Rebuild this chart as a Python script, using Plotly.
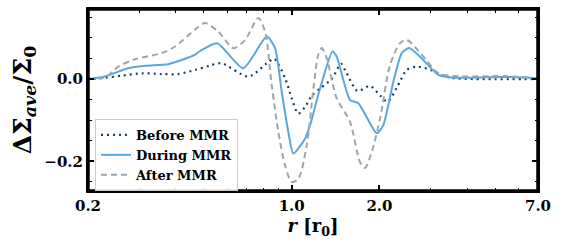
import math
import plotly.graph_objects as go

# ---- data ----
r_before = [0.2, 0.229, 0.261, 0.309, 0.358, 0.407, 0.466, 0.52, 0.575, 0.710, 0.821, 0.870, 0.949, 1.0, 1.054,
            1.111, 1.171, 1.251, 1.372, 1.477, 1.524, 1.682, 1.857, 2.010, 2.132, 2.294, 2.482, 2.686, 3.0,
            3.228, 3.6, 7.0]
v_before = [0.0, 0.003, 0.008, 0.014, 0.012, 0.012, 0.022, 0.032, 0.038, 0.006, 0.038, 0.049, 0.002, -0.047,
            -0.084, -0.068, -0.041, -0.023, 0.0, 0.037, 0.022, -0.029, -0.017, -0.040, -0.055, -0.021, 0.022,
            0.030, 0.022, 0.010, 0.002, 0.0]

r_during = [0.2, 0.229, 0.274, 0.314, 0.376, 0.419, 0.466, 0.485, 0.555, 0.681, 0.821, 0.877, 0.924, 0.974,
            1.013, 1.111, 1.156, 1.251, 1.38, 1.427, 1.585, 1.693, 1.958, 2.062, 2.232, 2.386, 2.528, 2.794,
            3.186, 3.634, 5.4, 7.0]
v_during = [0.0, 0.006, 0.026, 0.032, 0.036, 0.046, 0.059, 0.068, 0.087, 0.026, 0.103, 0.075, -0.031, -0.129,
            -0.181, -0.145, -0.112, -0.023, 0.067, 0.054, -0.051, -0.059, -0.132, -0.112, -0.007, 0.063, 0.075,
            0.050, 0.010, 0.003, 0.005, 0.002]

r_after = [0.2, 0.229, 0.254, 0.290, 0.358, 0.398, 0.466, 0.504, 0.560, 0.631, 0.692, 0.768, 0.810, 0.854,
           0.900, 0.949, 1.0, 1.054, 1.126, 1.187, 1.234, 1.268, 1.319, 1.427, 1.585, 1.716, 1.785, 1.882,
           2.010, 2.175, 2.354, 2.482, 2.794, 3.186, 3.634, 5.4, 7.0]
v_after = [0.0, 0.004, 0.030, 0.048, 0.063, 0.079, 0.120, 0.136, 0.115, 0.075, 0.095, 0.148, 0.115, -0.015,
           -0.129, -0.210, -0.250, -0.242, -0.161, -0.023, 0.059, 0.075, 0.050, -0.047, -0.104, -0.202, -0.216,
           -0.177, -0.096, 0.034, 0.087, 0.095, 0.059, 0.014, 0.007, 0.007, 0.002]

labels = ["<b>Before MMR</b>", "<b>During MMR</b>", "<b>After MMR</b>"]
x_major = [0.2, 1.0, 2.0, 7.0]
x_major_text = ["<b>0.2</b>", "<b>1.0</b>", "<b>2.0</b>", "<b>7.0</b>"]
x_minor = [0.3, 0.4, 0.5, 0.6, 0.7, 0.8, 0.9, 3, 4, 5, 6]
y_major = [-0.2, 0.0]
y_major_text = ["<b>\u22120.2</b>", "<b>0.0</b>"]
y_minor = [-0.25, -0.15, -0.1, -0.05, 0.05, 0.1, 0.15]

FONT = "DejaVu Serif"

fig = go.Figure()
fig.add_trace(go.Scatter(x=r_before, y=v_before, mode="lines", name=labels[0],
                         line=dict(color="#173f63", width=2.2, dash="2px,4px", shape="spline", smoothing=0.8)))
fig.add_trace(go.Scatter(x=r_during, y=v_during, mode="lines", name=labels[1],
                         line=dict(color="#5aa7de", width=2, shape="spline", smoothing=0.6)))
fig.add_trace(go.Scatter(x=r_after, y=v_after, mode="lines", name=labels[2],
                         line=dict(color="#97a7b3", width=2, dash="6px,4px", shape="spline", smoothing=0.8)))

xrange_ = [math.log10(0.2), math.log10(7.0)]
yrange_ = [-0.272, 0.17]

fig.update_layout(
    width=562, height=251,
    margin=dict(l=88, r=24, t=9, b=60),
    paper_bgcolor="white", plot_bgcolor="white",
    font=dict(family=FONT, size=15, color="black"),
    showlegend=True,
    legend=dict(x=(95 - 88) / 450, y=(191 - 119) / 182, xanchor="left", yanchor="top",
                bgcolor="rgba(255,255,255,0.85)", bordercolor="#cccccc", borderwidth=1,
                font=dict(family=FONT, size=13), itemwidth=30, tracegroupgap=0),
    xaxis=dict(type="log", range=xrange_, automargin=False,
               tickvals=x_major, ticktext=x_major_text, ticks="inside", ticklen=6, tickwidth=1.5,
               tickcolor="black", showline=True, linecolor="black", linewidth=2, mirror="ticks",
               showgrid=False, zeroline=False,
               title=dict(text="<b><i>r</i> [r<sub>0</sub>]</b>", font=dict(size=18, family=FONT),
                          standoff=4),
               tickfont=dict(size=15, family=FONT)),
    yaxis=dict(range=yrange_, automargin=False, tickvals=y_major, ticktext=y_major_text,
               ticks="inside", ticklen=6, tickwidth=1.5, tickcolor="black", showline=True,
               linecolor="black", linewidth=2, mirror="ticks", showgrid=False, zeroline=False,
               title=dict(text="<b>\u0394\u03a3<sub><i>ave</i></sub>/\u03a3<sub>0</sub></b>",
                          font=dict(size=25, family=FONT), standoff=6),
               tickfont=dict(size=15, family=FONT)),
    # overlay axes carrying only the minor ticks
    xaxis2=dict(type="log", range=xrange_, overlaying="x", anchor="y", side="bottom",
                tickvals=x_minor, ticks="inside", ticklen=3.5, tickwidth=1.2, tickcolor="black",
                showticklabels=False, mirror="ticks", showgrid=False, zeroline=False, showline=False),
    yaxis2=dict(range=yrange_, overlaying="y", anchor="x", side="left",
                tickvals=y_minor, ticks="inside", ticklen=3.5, tickwidth=1.2, tickcolor="black",
                showticklabels=False, mirror="ticks", showgrid=False, zeroline=False, showline=False),
    # hidden unit axes used only for the plot frame
    xaxis3=dict(range=[0, 1], overlaying="x", anchor="y3", visible=False),
    yaxis3=dict(range=[0, 1], overlaying="y", anchor="x3", visible=False),
)
# an empty trace to activate the minor-tick overlay axes
fig.add_trace(go.Scatter(x=[], y=[], xaxis="x2", yaxis="y2", showlegend=False, hoverinfo="skip"))
# plot frame (box around the axes)
frame_x = [0, 1, 1, 0, 0]
frame_y = [0, 0, 1, 1, 0]
fig.add_trace(go.Scatter(x=frame_x, y=frame_y, xaxis="x3", yaxis="y3", mode="lines", showlegend=False,
                         hoverinfo="skip", line=dict(color="black", width=3.5)))

fig.write_html("out.html", post_script="document.body.style.margin='0px';",
               config={"displayModeBar": False})
